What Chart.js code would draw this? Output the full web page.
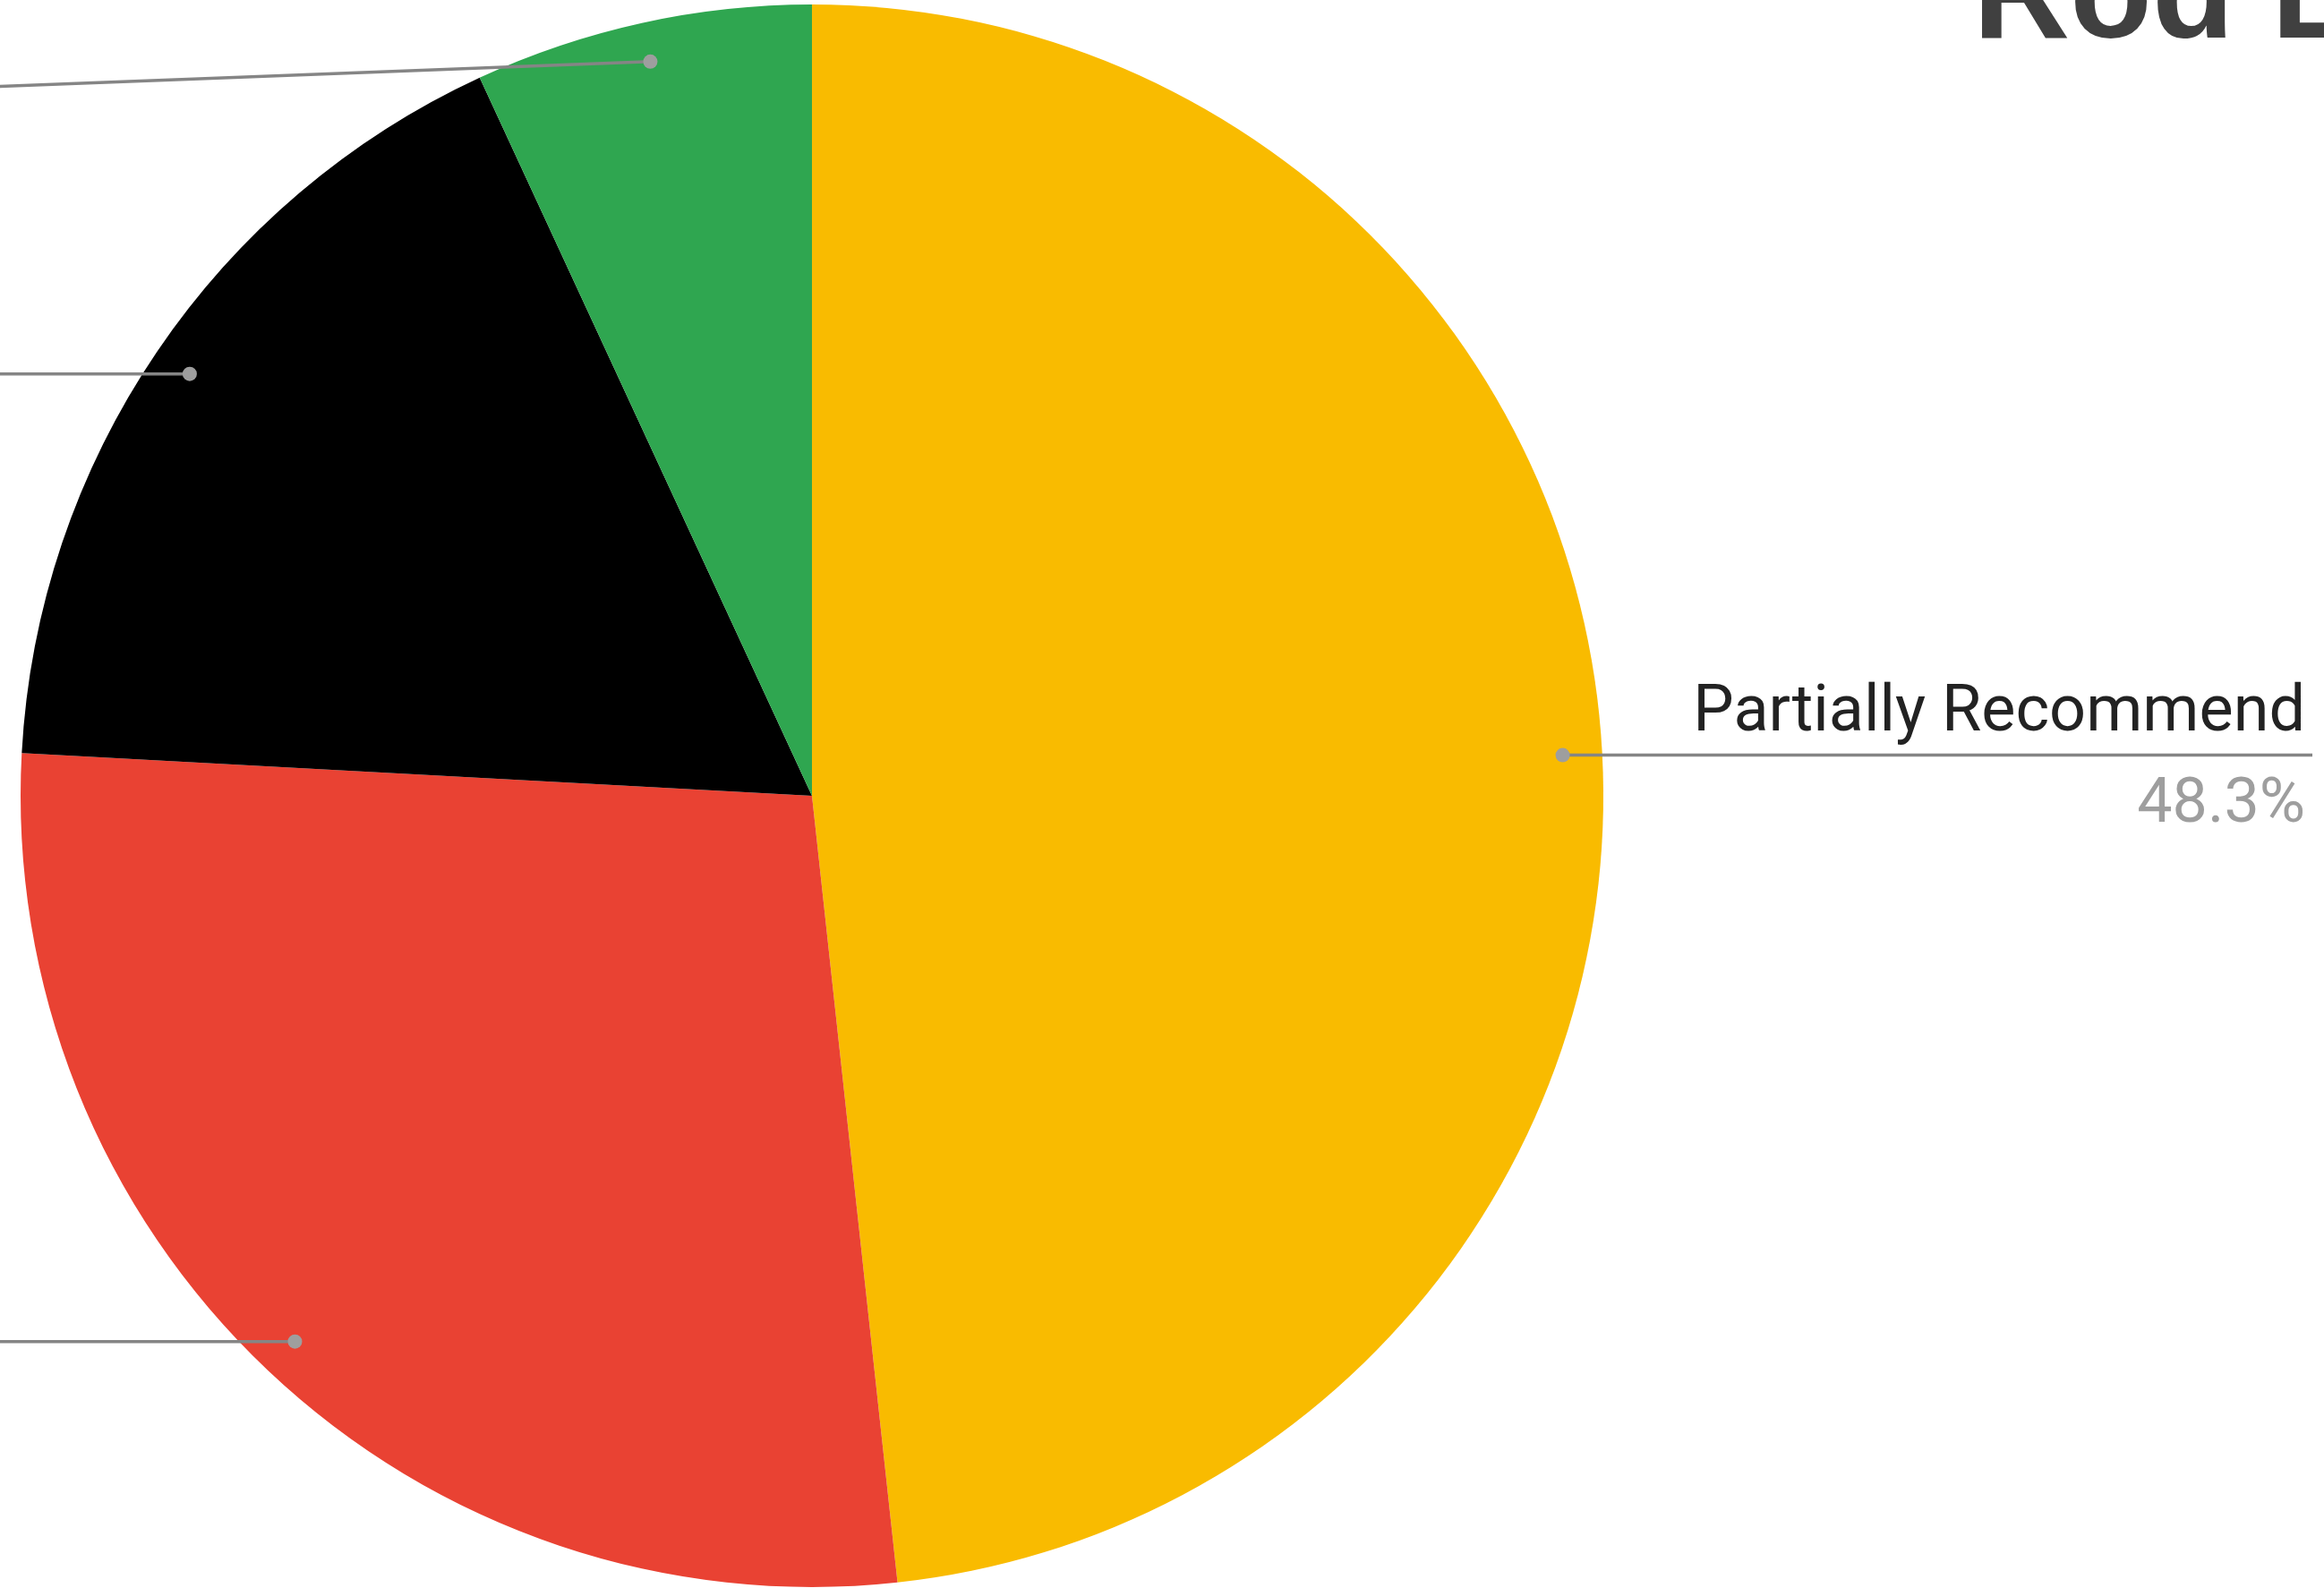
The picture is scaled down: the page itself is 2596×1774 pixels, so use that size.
<!DOCTYPE html>
<html>
<head>
<meta charset="utf-8">
<style>
  html, body { margin: 0; padding: 0; background: #ffffff; overflow: hidden; }
  #pieChart { display: block; }
</style>
<script src="https://cdn.jsdelivr.net/npm/chart.js@4.4.0/dist/chart.umd.min.js"></script>
</head>
<body>
<canvas id="pieChart" width="2596" height="1774"></canvas>
<script>
// answers (count of responses), clockwise from 12 o'clock
var categories = ["Partially Recommend", "Not Recommend", "No Opinion", "Fully Recommend"];
var responses = [14, 8, 5, 2];
var sliceColors = ["#F9BB00", "#E94233", "#000000", "#2FA650"];
var chartTitle = "Rod L";

var total = responses.reduce(function (a, b) { return a + b; }, 0);

// leader lines + labels, drawn from the arc elements
var leaderLines = {
    id: "leaderLines",
    afterDatasetsDraw: function (chart, args, opts) {
        var ctx = chart.ctx;
        var arcs = chart.getDatasetMeta(0).data;
        ctx.save();
        arcs.forEach(function (arc, i) {
            var p = arc.getProps(["x", "y", "startAngle", "endAngle", "outerRadius"], true);
            var mid = (p.startAngle + p.endAngle) / 2;
            var dx = p.x + Math.cos(mid) * p.outerRadius * 0.95;
            var dy = p.y + Math.sin(mid) * p.outerRadius * 0.95;
            var right = Math.cos(mid) >= 0;
            var ex = right ? opts.rightX : opts.leftX;
            var ey = right ? dy : Math.max(dy, opts.minLeftY);

            ctx.strokeStyle = "#858585";
            ctx.lineWidth = 3.5;
            ctx.beginPath();
            ctx.moveTo(dx, dy);
            ctx.lineTo(ex, ey);
            ctx.stroke();

            ctx.fillStyle = "#9e9e9e";
            ctx.beginPath();
            ctx.arc(dx, dy, 8, 0, Math.PI * 2);
            ctx.fill();

            // left-hand labels sit beyond the left edge, as in the cropped original
            var pct = (responses[i] / total * 100).toFixed(1) + "%";
            ctx.textAlign = "right";
            ctx.textBaseline = "alphabetic";
            ctx.font = "72px Roboto";
            ctx.fillStyle = "#222222";
            ctx.fillText(categories[i], ex - 8, ey - 28);
            ctx.font = "70px Roboto";
            ctx.fillStyle = "#9e9e9e";
            ctx.fillText(pct, ex - 8, ey + 74);
        });
        ctx.restore();
    },
    afterDraw: function (chart) {
        var ctx = chart.ctx;
        ctx.save();
        ctx.font = "bold 150px 'Liberation Sans', Arial, sans-serif";
        ctx.fillStyle = "#404040";
        ctx.textAlign = "left";
        ctx.textBaseline = "alphabetic";
        ctx.fillText(chartTitle, 2204, 42);
        ctx.restore();
    }
};

var pieCanvas = document.getElementById("pieChart");

var pieData = {
    labels: categories,
    datasets: [{
        data: responses,
        backgroundColor: sliceColors,
        borderWidth: 0
    }]
};

var pieChart = new Chart(pieCanvas, {
    type: "pie",
    data: pieData,
    options: {
        responsive: false,
        devicePixelRatio: 1,
        animation: false,
        layout: {
            padding: { left: 23, top: 5, right: 805, bottom: 1 }
        },
        plugins: {
            legend: { display: false },
            tooltip: { enabled: false },
            title: { display: false },
            leaderLines: { rightX: 2583, leftX: -200, minLeftY: 104 }
        }
    },
    plugins: [leaderLines]
});
</script>
</body>
</html>
